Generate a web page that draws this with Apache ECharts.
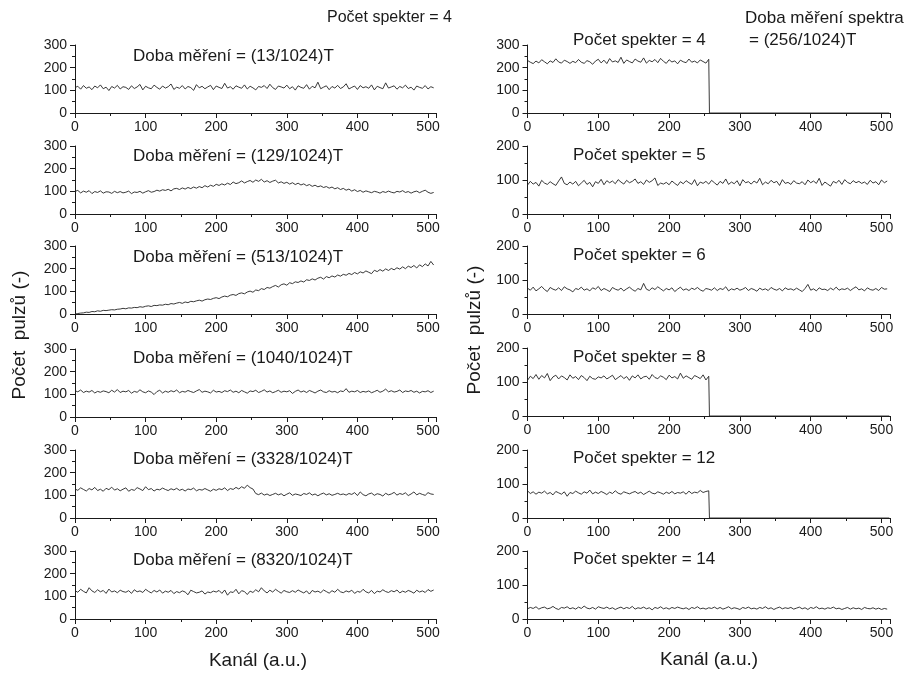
<!DOCTYPE html>
<html>
<head>
<meta charset="utf-8">
<script src="https://cdn.jsdelivr.net/npm/echarts@6/dist/echarts.min.js"></script>
<style>html,body{margin:0;padding:0;background:#fff;}#c{width:911px;height:674px;}</style>
</head>
<body>
<div id="c"></div>
<script>
// ---- data (channel step between stored samples) ----
const CH_STEP = 4;
const X_TICKS = [0, 100, 200, 300, 400, 500];
const TAIL_CHANNELS = [257, 511];
const TAIL_VALUES = [0, 0];

const leftTitles = ["Doba měření = (13/1024)T","Doba měření = (129/1024)T","Doba měření = (513/1024)T","Doba měření = (1040/1024)T","Doba měření = (3328/1024)T","Doba měření = (8320/1024)T"];
const rightTitles = ["Počet spekter = 4","Počet spekter = 5","Počet spekter = 6","Počet spekter = 8","Počet spekter = 12","Počet spekter = 14"];
const leftYMax = [300,300,300,300,300,300];
const rightYMax = [300,200,200,200,200,200];

const L1 = [112,118,105,121,109,115,103,119,111,124,107,114,99,117,110,122,
106,116,113,104,120,108,115,126,102,118,111,107,123,113,105,119,
110,116,128,104,114,109,121,106,117,112,100,125,111,118,107,115,
122,103,119,113,108,131,110,116,105,120,114,109,124,106,118,111,
102,117,113,121,108,127,112,104,119,115,110,123,107,116,101,120,
113,109,125,105,118,111,136,107,114,120,103,117,110,122,108,115,
129,106,113,119,104,121,111,116,109,124,102,118,112,107,133,110,
115,120,105,117,111,123,108,114,101,119,113,109,121,106,116,111];
const L2 = [100,104,93,101,96,103,90,99,95,102,92,98,97,91,100,94,
99,93,96,101,90,97,95,100,92,98,103,96,99,105,101,107,
104,109,102,111,113,108,115,110,117,112,119,114,121,116,125,119,
127,122,131,126,133,128,136,130,141,134,138,146,137,143,148,140,
150,144,153,141,147,139,145,149,137,142,135,140,132,138,130,136,
128,133,125,130,122,127,120,124,117,121,114,119,111,116,108,113,
105,110,101,107,99,104,96,102,98,94,100,97,92,99,95,101,
96,93,100,97,103,95,99,92,98,101,94,100,105,96,91,95];
const L3 = [0,2,4,5,8,7,11,10,14,12,16,15,17,19,18,21,
22,25,23,27,26,29,28,32,30,34,36,33,38,37,40,39,
43,41,46,44,48,51,47,53,50,56,54,58,61,57,63,66,
64,69,72,68,75,79,76,83,86,82,90,93,89,97,101,96,
106,103,112,108,117,114,121,126,119,129,133,127,138,134,142,139,
146,141,151,148,155,150,158,162,154,165,160,168,163,172,167,175,
171,179,174,183,177,186,181,190,184,178,193,187,196,189,199,192,
201,195,204,198,208,200,211,205,214,203,217,209,221,212,232,216];
const L4 = [116,111,119,108,114,110,117,106,113,109,115,112,107,118,110,121,
108,114,111,117,105,113,109,120,111,107,115,110,99,112,118,106,
114,109,116,111,119,107,113,110,117,112,108,115,121,109,114,111,
106,118,110,113,108,116,112,119,109,114,107,117,111,105,115,112,
118,108,113,120,110,115,107,112,118,109,114,111,116,104,113,119,
110,115,108,117,112,106,114,119,111,108,116,110,113,107,115,112,
125,109,114,111,117,108,113,110,115,107,112,118,109,114,123,111,
116,110,113,119,108,115,112,117,109,114,106,113,111,116,108,114];
const L5 = [128,122,133,126,119,130,124,135,121,127,118,131,125,136,123,129,
120,127,133,118,126,122,134,128,121,138,125,130,119,127,124,132,
126,121,129,124,131,122,127,119,128,125,132,120,126,123,130,124,
118,127,122,129,125,133,121,130,126,135,128,138,131,145,134,128,
108,103,110,101,106,99,104,109,102,107,98,105,111,100,106,103,
99,108,104,111,101,106,98,105,110,102,107,100,104,109,103,106,
101,108,104,112,99,115,103,98,106,110,100,107,104,97,109,102,
106,113,101,108,104,111,99,106,115,102,109,104,100,112,106,104];
const L6 = [125,118,131,122,115,138,124,117,129,120,126,113,132,119,124,116,
127,121,118,125,113,129,120,124,117,131,122,115,126,119,128,114,
123,118,126,112,121,116,124,119,107,127,121,115,118,124,110,119,
116,123,119,126,113,128,105,120,117,131,111,125,121,108,123,117,
129,120,138,124,115,127,119,131,122,114,126,120,117,125,118,128,
121,115,124,110,126,119,123,116,128,121,114,125,118,131,120,116,
124,119,127,113,122,118,131,120,115,126,112,123,119,129,121,117,
125,120,128,115,123,118,126,121,114,127,119,124,117,130,122,128];

const R1 = [232,224,218,229,221,235,226,217,230,223,239,225,220,233,227,219,
228,222,236,224,219,231,226,215,229,237,221,233,218,240,225,230,
223,246,219,234,227,221,238,229,224,243,220,232,226,236,222,241,
228,219,235,225,230,217,233,226,222,238,224,229,221,234,227,220,
237];
const R2 = [85,96,88,93,82,99,91,87,95,89,84,97,109,90,86,94,
88,96,83,91,99,87,93,80,95,90,102,86,98,92,97,89,
101,94,88,99,92,96,103,90,95,87,100,93,98,106,84,91,
88,93,86,97,90,84,95,89,98,92,87,101,83,94,90,96,
88,99,92,85,96,90,103,87,94,89,98,83,101,92,95,88,
97,91,105,86,94,89,99,92,96,84,101,90,93,87,98,91,
89,95,86,100,92,97,90,105,84,94,88,82,96,91,99,87,
101,93,89,98,92,96,90,94,87,99,91,95,86,100,92,97];
const R3 = [76,70,79,68,74,81,72,66,78,73,70,77,69,80,74,71,
65,75,72,79,70,74,68,77,73,81,69,75,71,66,78,73,
70,76,68,74,79,72,67,75,71,90,73,69,77,72,80,74,
68,75,71,77,66,73,79,70,74,69,76,72,78,71,67,75,
73,70,77,69,75,72,80,68,74,71,76,70,73,78,69,75,
72,67,76,71,74,69,78,73,70,75,68,77,72,74,70,76,
71,66,75,87,70,74,68,77,72,73,69,76,71,79,70,74,
72,76,69,75,80,71,74,68,77,72,70,75,69,78,73,74];
const R4 = [105,117,110,122,108,119,112,125,104,115,120,109,118,113,106,121,
111,116,107,119,113,104,117,110,108,115,112,118,109,114,120,107,
113,119,110,116,105,118,112,121,109,115,117,108,122,113,110,118,
114,107,120,112,116,109,126,111,118,113,108,119,115,110,121,106,
117];
const R5 = [80,72,77,70,76,73,79,71,75,68,78,74,70,77,64,75,
72,79,74,70,77,73,82,71,76,72,78,74,69,76,72,80,
73,70,77,74,71,75,78,72,76,69,74,79,73,71,77,74,
70,76,72,78,71,75,73,77,70,79,72,76,74,81,75,78,
80];
const R6 = [30,34,31,36,29,33,35,30,32,37,31,28,34,32,36,30,
33,29,35,31,38,32,30,34,29,36,33,31,35,30,33,28,
32,35,30,34,31,37,29,33,31,35,30,33,27,34,31,36,
30,33,29,34,31,35,32,30,33,28,34,31,36,30,32,29,
33,31,35,30,34,29,32,36,30,33,31,28,34,31,35,30,
32,29,34,31,36,30,33,28,32,35,30,33,31,34,29,32,
35,30,33,28,34,31,36,30,32,29,33,31,35,30,32,28,
31,34,29,33,30,32,28,34,31,30,33,29,32,28,31,29];

const leftSeries = [L1,L2,L3,L4,L5,L6];
const rightSeries = [R1,R2,R3,R4,R5,R6];
const rightCutoff = [true,false,false,true,true,false];

// ---- layout ----
const FONT = "'Liberation Sans', Arial, sans-serif";
const INK = '#1a1a1a';
const leftTops = [45,146,246,349,450,551];
const rightTops = [45,146,246,348,450,551];
const PANEL_H = 68;
const LEFT_X = 75, LEFT_W = 361.5;
const RIGHT_X = 527.5, RIGHT_W = 362.5;
const TICK_FS = 14, TITLE_FS = 17, AXIS_FS = 19;

function toPairs(vals, cut) {
  const d = vals.map((v, i) => [i * CH_STEP, v]);
  if (cut) TAIL_CHANNELS.forEach((c, k) => d.push([c, TAIL_VALUES[k]]));
  return d;
}

const grids = [], xAxes = [], yAxes = [], series = [], graphics = [];
function addPanel(left, top, width, ymax, vals, cut) {
  const idx = grids.length;
  grids.push({left: left, top: top, width: width, height: PANEL_H, containLabel: false});
  const axisLine = {show: true, onZero: false, lineStyle: {color: INK, width: 1}};
  xAxes.push({
    gridIndex: idx, type: 'value', min: 0, max: 512, interval: 100,
    axisLine: axisLine,
    axisTick: {show: true, length: 5, lineStyle: {color: INK, width: 1}},
    minorTick: {show: true, splitNumber: 2, length: 3, lineStyle: {color: INK, width: 1}},
    splitLine: {show: false},
    axisLabel: {show: true, showMaxLabel: false, margin: 7, fontSize: TICK_FS, color: INK, fontFamily: FONT}
  });
  yAxes.push({
    gridIndex: idx, type: 'value', min: 0, max: ymax, interval: 100,
    axisLine: axisLine,
    axisTick: {show: true, length: 5, lineStyle: {color: INK, width: 1}},
    minorTick: {show: true, splitNumber: 2, length: 3, lineStyle: {color: INK, width: 1}},
    splitLine: {show: false},
    axisLabel: {margin: 8, fontSize: TICK_FS, color: INK, fontFamily: FONT}
  });
  series.push({
    type: 'line', xAxisIndex: idx, yAxisIndex: idx, data: toPairs(vals, cut),
    showSymbol: false, symbol: 'none', animation: false,
    lineStyle: {color: '#222', width: 0.9}
  });
}
for (let i = 0; i < 6; i++) addPanel(LEFT_X, leftTops[i], LEFT_W, leftYMax[i], leftSeries[i], false);
for (let i = 0; i < 6; i++) addPanel(RIGHT_X, rightTops[i], RIGHT_W, rightYMax[i], rightSeries[i], rightCutoff[i]);

function txt(x, y, s, size, align, rot) {
  graphics.push({type: 'text', x: x, y: y, rotation: rot || 0,
    style: {text: s, fill: INK, font: size + 'px ' + FONT, textAlign: align || 'left', textVerticalAlign: 'middle'}});
}
const leftTitleY = [56,156,257,358,459,560];
const rightTitleY = [40,155,255,357,458,559];
for (let i = 0; i < 6; i++) txt(133, leftTitleY[i], leftTitles[i], TITLE_FS);
for (let i = 0; i < 6; i++) txt(573, rightTitleY[i], rightTitles[i], TITLE_FS);
txt(452, 18, 'Počet spekter = 4', 16, 'right');
txt(745, 18, 'Doba měření spektra', 17, 'left');
txt(749, 40, '= (256/1024)T', 17, 'left');
txt(258, 661, 'Kanál (a.u.)', AXIS_FS, 'center');
txt(709, 660, 'Kanál (a.u.)', AXIS_FS, 'center');
txt(20, 335, 'Počet  pulzů (-)', AXIS_FS, 'center', Math.PI / 2);
txt(475, 330, 'Počet  pulzů (-)', AXIS_FS, 'center', Math.PI / 2);

const chart = echarts.init(document.getElementById('c'), null, {renderer: 'canvas'});
chart.setOption({
  backgroundColor: '#ffffff',
  animation: false,
  grid: grids, xAxis: xAxes, yAxis: yAxes, series: series,
  graphic: graphics
});
</script>
</body>
</html>
